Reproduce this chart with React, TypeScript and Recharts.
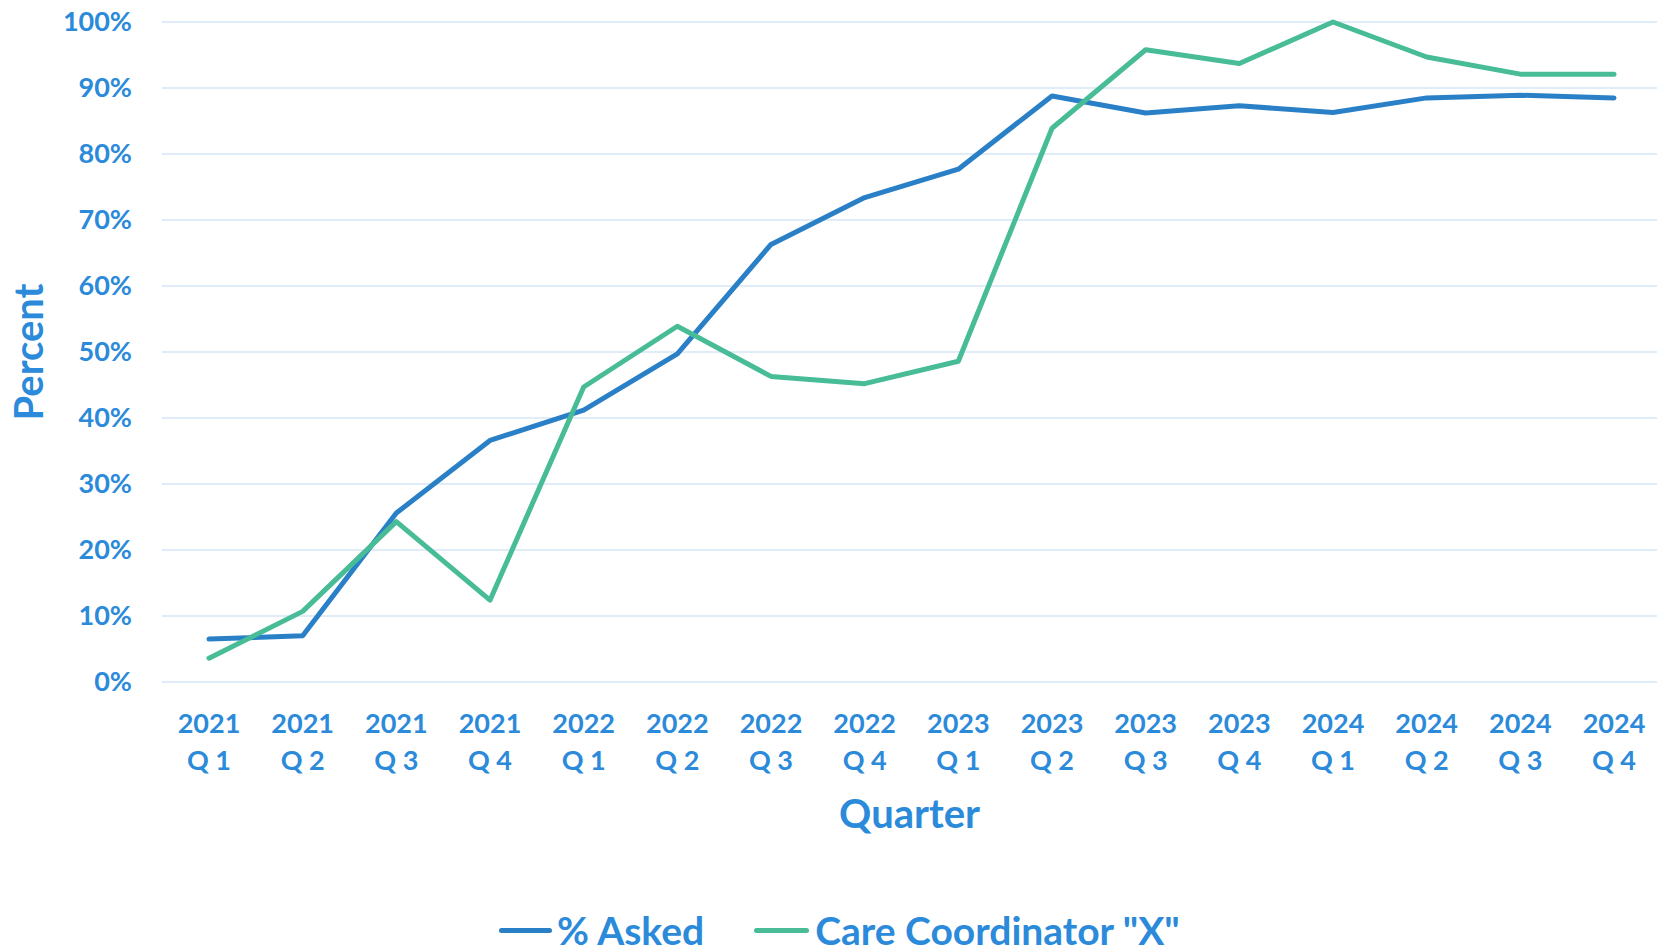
import React from 'react';
import { LineChart, Line, XAxis, YAxis, CartesianGrid, Legend, Label } from 'recharts';

const quarters = [
  '2021 Q 1', '2021 Q 2', '2021 Q 3', '2021 Q 4',
  '2022 Q 1', '2022 Q 2', '2022 Q 3', '2022 Q 4',
  '2023 Q 1', '2023 Q 2', '2023 Q 3', '2023 Q 4',
  '2024 Q 1', '2024 Q 2', '2024 Q 3', '2024 Q 4',
];
const pctAsked = [6.5, 7.0, 25.6, 36.6, 41.2, 49.7, 66.3, 73.4, 77.7, 88.8, 86.2, 87.3, 86.3, 88.5, 88.9, 88.5];
const careCoordX = [3.6, 10.7, 24.3, 12.4, 44.7, 53.9, 46.3, 45.2, 48.6, 83.9, 95.8, 93.7, 100, 94.7, 92.1, 92.1];
const yTicks = [0, 10, 20, 30, 40, 50, 60, 70, 80, 90, 100];

const data = quarters.map((q, i) => ({ quarter: q, asked: pctAsked[i], careX: careCoordX[i] }));

const textBlue = '#2B8AD9';
const lineBlue = '#2A80C6';
const lineGreen = '#47BC96';
const gridColor = '#D6E7F6';
const font = 'Lato, "Open Sans", sans-serif';

const XTick = (props: any) => {
  const { x, y, payload } = props;
  const [year, ...rest] = String(payload.value).split(' ');
  return (
    <text x={x} y={y} textAnchor="middle" fill={textBlue} fontFamily={font} fontWeight={700} fontSize={27}>
      <tspan x={x} dy={49}>{year}</tspan>
      <tspan x={x} dy={37}>{rest.join(' ')}</tspan>
    </text>
  );
};

const YTick = (props: any) => {
  const { x, y, payload } = props;
  return (
    <text x={x} y={y} dy={9} textAnchor="end" fill={textBlue} fontFamily={font} fontWeight={700} fontSize={27}>
      {`${payload.value}%`}
    </text>
  );
};

const PercentLabel = () => (
  <text
    x={28}
    y={352}
    transform="rotate(-90, 28, 352)"
    textAnchor="middle"
    dominantBaseline="central"
    fill={textBlue}
    fontFamily={font}
    fontWeight={700}
    fontSize={40}
  >
    Percent
  </text>
);

// legend is drawn by hand so the spacing matches the original
const LegendContent = () => (
  <div style={{ height: 70, display: 'flex', alignItems: 'center', paddingLeft: 499, paddingTop: 32, boxSizing: 'border-box', fontFamily: font, fontWeight: 700, fontSize: 39, color: textBlue, lineHeight: '36px' }}>
    <span style={{ display: 'inline-block', width: 53, height: 5, background: lineBlue, borderRadius: 3, marginRight: 5 }} />
    <span>% Asked</span>
    <span style={{ display: 'inline-block', width: 55, height: 5, background: lineGreen, borderRadius: 3, marginLeft: 50, marginRight: 6 }} />
    <span>Care Coordinator "X"</span>
  </div>
);

export default function App() {
  return (
    <div style={{ position: 'absolute', left: 0, top: 0, background: '#fff' }}>
      <LineChart width={1657} height={949} data={data} margin={{ top: 22, right: 0, bottom: 0, left: 0 }}>
        <CartesianGrid horizontal vertical={false} stroke={gridColor} strokeWidth={1.5} />
        <XAxis
          dataKey="quarter"
          axisLine={false}
          tickLine={false}
          tickSize={0}
          interval={0}
          height={197}
          padding={{ left: 47, right: 43 }}
          tick={<XTick />}
        >
          <Label value="Quarter" position="insideTop" offset={118} fill={textBlue} fontFamily={font} fontWeight={700} fontSize={40} />
        </XAxis>
        <YAxis
          width={162}
          domain={[0, 100]}
          ticks={yTicks}
          axisLine={false}
          tickLine={false}
          tickSize={0}
          tickMargin={30}
          tick={<YTick />}
        >
          <Label content={<PercentLabel />} />
        </YAxis>
        <Legend verticalAlign="bottom" content={<LegendContent />} wrapperStyle={{ left: 0, width: 1657 }} />
        <Line type="linear" dataKey="asked" name="% Asked" stroke={lineBlue} strokeWidth={5} dot={false} strokeLinecap="round" strokeLinejoin="round" isAnimationActive={false} />
        <Line type="linear" dataKey="careX" name='Care Coordinator "X"' stroke={lineGreen} strokeWidth={5} dot={false} strokeLinecap="round" strokeLinejoin="round" isAnimationActive={false} />
      </LineChart>
    </div>
  );
}
